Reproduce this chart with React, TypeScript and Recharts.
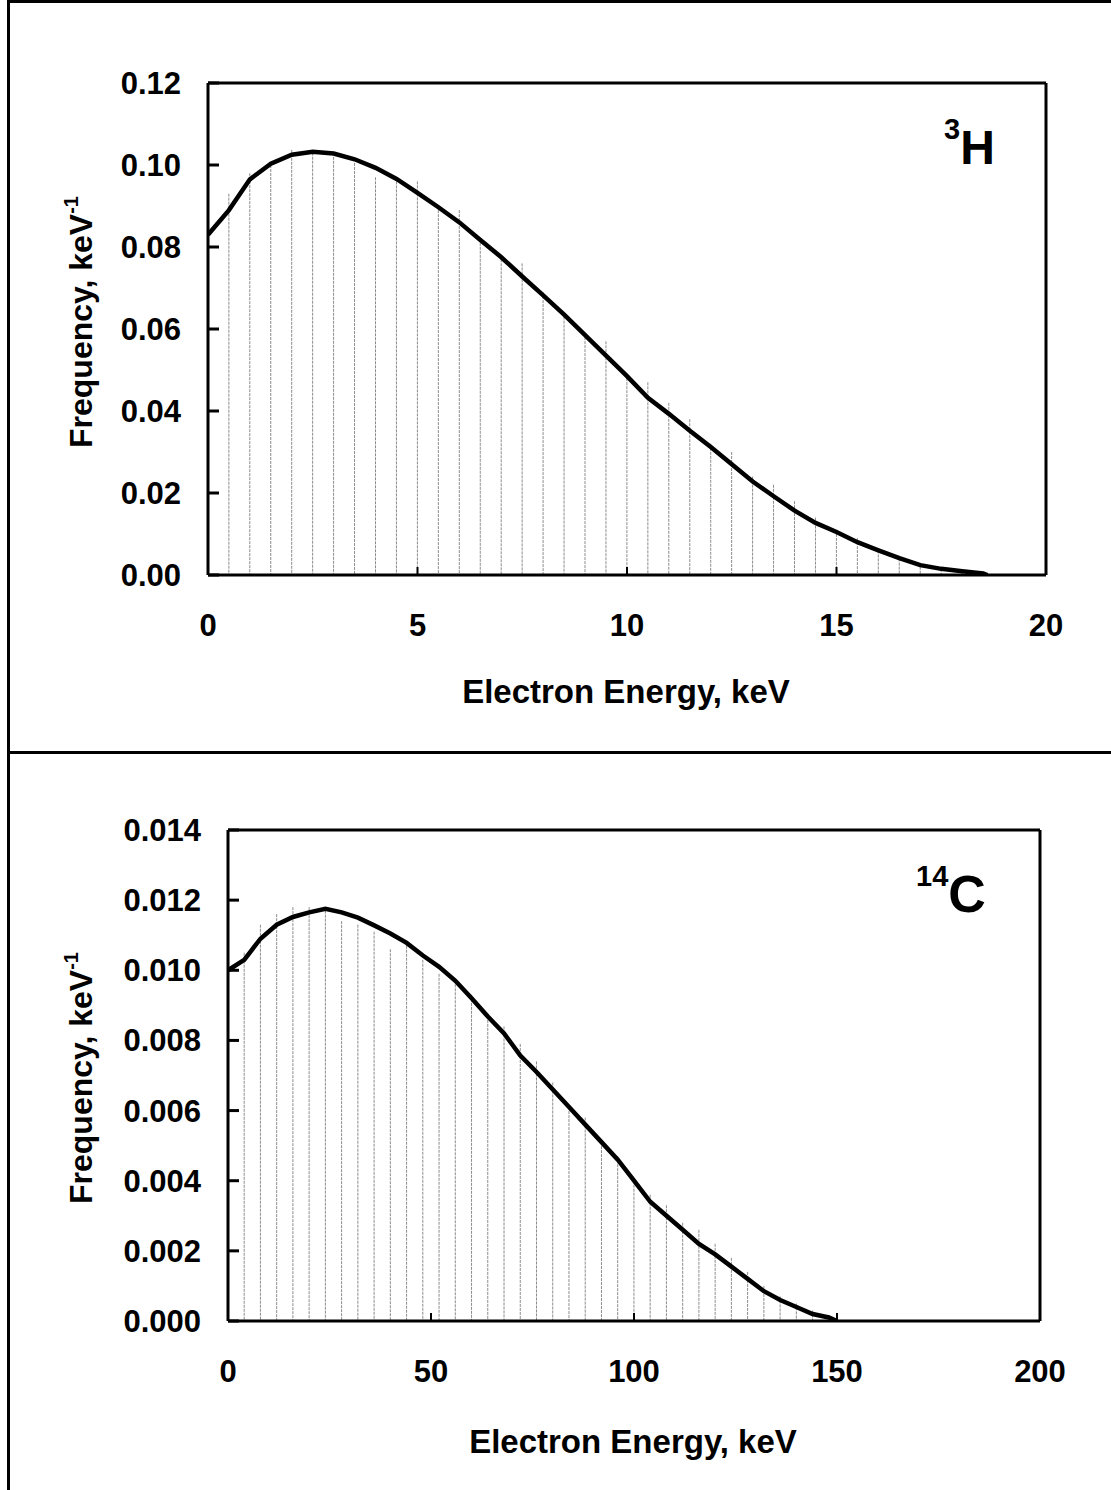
import React from "react";
import { ComposedChart, Bar, Line, XAxis, YAxis, ReferenceLine } from "recharts";

// --- 3H panel ---
const h3Energy = [0, 0.5, 1, 1.5, 2, 2.5, 3, 3.5, 4, 4.5, 5, 5.5, 6, 6.5, 7, 7.5, 8, 8.5, 9, 9.5, 10, 10.5, 11, 11.5, 12, 12.5, 13, 13.5, 14, 14.5, 15, 15.5, 16, 16.5, 17, 17.5, 18, 18.5, 18.6];
const h3Curve = [0.083, 0.089, 0.0965, 0.1003, 0.1025, 0.1032, 0.1028, 0.1014, 0.0993, 0.0966, 0.0932, 0.0897, 0.086, 0.0817, 0.0775, 0.0728, 0.0682, 0.0635, 0.0585, 0.0535, 0.0485, 0.0432, 0.0393, 0.0352, 0.0312, 0.027, 0.0228, 0.0192, 0.0157, 0.0127, 0.0105, 0.008, 0.006, 0.0041, 0.0024, 0.0015, 0.0009, 0.0004, 0];
const h3Bins = [null, 0.093, 0.098, 0.1, 0.1037, 0.103, 0.102, 0.1005, 0.097, 0.096, 0.096, 0.089, 0.089, 0.082, 0.077, 0.076, 0.069, 0.064, 0.059, 0.057, 0.048, 0.047, 0.042, 0.038, 0.032, 0.03, 0.024, 0.022, 0.018, 0.014, 0.011, 0.009, 0.006, 0.004, 0.002, 0.0015, 0.0008, 0.0004, null];
const h3XTicks = [0, 5, 10, 15, 20];
const h3YTicks = [0, 0.02, 0.04, 0.06, 0.08, 0.1, 0.12];

// --- 14C panel ---
const c14Energy = [0, 4, 8, 12, 16, 20, 24, 28, 32, 36, 40, 44, 48, 52, 56, 60, 64, 68, 72, 76, 80, 84, 88, 92, 96, 100, 104, 108, 112, 116, 120, 124, 128, 132, 136, 140, 144, 148, 150];
const c14Curve = [0.01, 0.0103, 0.0109, 0.0113, 0.01152, 0.01165, 0.01175, 0.01165, 0.0115, 0.01128, 0.01105, 0.01078, 0.01042, 0.0101, 0.0097, 0.0092, 0.00868, 0.0082, 0.00757, 0.0071, 0.0066, 0.0061, 0.0056, 0.0051, 0.0046, 0.004, 0.0034, 0.003, 0.0026, 0.0022, 0.0019, 0.00155, 0.0012, 0.00085, 0.0006, 0.0004, 0.0002, 0.0001, 0];
const c14Bins = [null, 0.0105, 0.0113, 0.0116, 0.0118, 0.0118, 0.0117, 0.0114, 0.0113, 0.0111, 0.0106, 0.0107, 0.0103, 0.0099, 0.0096, 0.0093, 0.0087, 0.0084, 0.0079, 0.0074, 0.0068, 0.0061, 0.0058, 0.0051, 0.0047, 0.004, 0.0036, 0.0033, 0.0028, 0.0026, 0.0022, 0.0018, 0.0014, 0.001, 0.0007, 0.0005, 0.0003, 0.0001, null];
const c14XTicks = [0, 50, 100, 150, 200];
const c14YTicks = [0, 0.002, 0.004, 0.006, 0.008, 0.01, 0.012, 0.014];

const FONT = '"Liberation Sans", Arial, sans-serif';

const toRows = (xs: number[], curve: number[], bins: (number | null)[]) =>
  xs.map((x, i) => ({ x, curve: curve[i], bin: bins[i] }));

const BinLine = (props: any) => {
  const { x, y, width, height } = props;
  if (!height || height <= 0) return null;
  const cx = x + width / 2;
  return <line x1={cx} x2={cx} y1={y} y2={y + height} stroke="#8c8c8c" strokeWidth={1} strokeDasharray="3 1" />;
};

const XTick = (props: any) => {
  const { x, y, payload } = props;
  return (
    <text x={x} y={y + 61} textAnchor="middle" fontFamily={FONT} fontWeight="bold" fontSize={31} fill="#000">
      {payload.value}
    </text>
  );
};

const makeYTick = (digits: number) => (props: any) => {
  const { x, y, payload } = props;
  return (
    <text x={x} y={y + 11} textAnchor="end" fontFamily={FONT} fontWeight="bold" fontSize={31} fill="#000">
      {Number(payload.value).toFixed(digits)}
    </text>
  );
};

function Panel({ rows, xMax, yMax, xTicks, yTicks, digits, margin, height }: any) {
  return (
    <ComposedChart width={1111} height={height} data={rows} margin={margin}>
      <XAxis
        dataKey="x"
        type="number"
        domain={[0, xMax]}
        ticks={xTicks}
        allowDataOverflow
        height={60}
        axisLine={{ stroke: "#000", strokeWidth: 3 }}
        tickLine={{ stroke: "#000", strokeWidth: 2 }}
        tickSize={-8}
        tickMargin={8}
        tick={<XTick />}
        interval={0}
      />
      <YAxis
        type="number"
        domain={[0, yMax]}
        ticks={yTicks}
        allowDataOverflow
        width={100}
        axisLine={{ stroke: "#000", strokeWidth: 3 }}
        tickLine={{ stroke: "#000", strokeWidth: 3 }}
        tickSize={-11}
        tickMargin={38}
        tick={makeYTick(digits)}
        interval={0}
      />
      <ReferenceLine y={yMax} stroke="#000" strokeWidth={3} />
      <ReferenceLine x={xMax} stroke="#000" strokeWidth={3} />
      <Bar dataKey="bin" barSize={2} shape={<BinLine />} isAnimationActive={false} />
      <Line dataKey="curve" type="linear" stroke="#000" strokeWidth={4.5} dot={false} isAnimationActive={false} />
    </ComposedChart>
  );
}

export default function App() {
  const h3Rows = toRows(h3Energy, h3Curve, h3Bins);
  const c14Rows = toRows(c14Energy, c14Curve, c14Bins);
  const titleStyle = { fontFamily: FONT, fontWeight: "bold" as const, fill: "#000" };
  return (
    <div style={{ position: "absolute", left: 0, top: 0, width: 1111, height: 1490, background: "#fff", overflow: "hidden" }}>
      <div style={{ position: "absolute", left: 0, top: 0 }}>
        <Panel
          rows={h3Rows}
          xMax={20}
          yMax={0.12}
          xTicks={h3XTicks}
          yTicks={h3YTicks}
          digits={2}
          height={760}
          margin={{ top: 83, left: 108, right: 65, bottom: 125 }}
        />
      </div>
      <div style={{ position: "absolute", left: 0, top: 760 }}>
        <Panel
          rows={c14Rows}
          xMax={200}
          yMax={0.014}
          xTicks={c14XTicks}
          yTicks={c14YTicks}
          digits={3}
          height={730}
          margin={{ top: 70, left: 128, right: 71, bottom: 109 }}
        />
      </div>
      <svg width={1111} height={1490} style={{ position: "absolute", left: 0, top: 0, pointerEvents: "none" }}>
        <rect x={7} y={0} width={3} height={1490} fill="#000" />
        <rect x={7} y={0} width={1104} height={3} fill="#000" />
        <rect x={7} y={751} width={1104} height={3} fill="#000" />

        <text x={626} y={703} textAnchor="middle" fontSize={33} {...titleStyle}>Electron Energy, keV</text>
        <text x={633} y={1453} textAnchor="middle" fontSize={33} {...titleStyle}>Electron Energy, keV</text>

        <text transform="translate(92,322) rotate(-90)" textAnchor="middle" fontSize={32} {...titleStyle}>
          Frequency, keV<tspan fontSize={20} dy={-14}>-1</tspan>
        </text>
        <text transform="translate(92,1078) rotate(-90)" textAnchor="middle" fontSize={32} {...titleStyle}>
          Frequency, keV<tspan fontSize={20} dy={-14}>-1</tspan>
        </text>

        <text x={944} y={164} fontSize={48} {...titleStyle}>
          <tspan fontSize={29} dy={-25}>3</tspan>
          <tspan dy={25}>H</tspan>
        </text>
        <text x={916} y={912} fontSize={52} {...titleStyle}>
          <tspan fontSize={29} dy={-26}>14</tspan>
          <tspan dy={26}>C</tspan>
        </text>
      </svg>
    </div>
  );
}
